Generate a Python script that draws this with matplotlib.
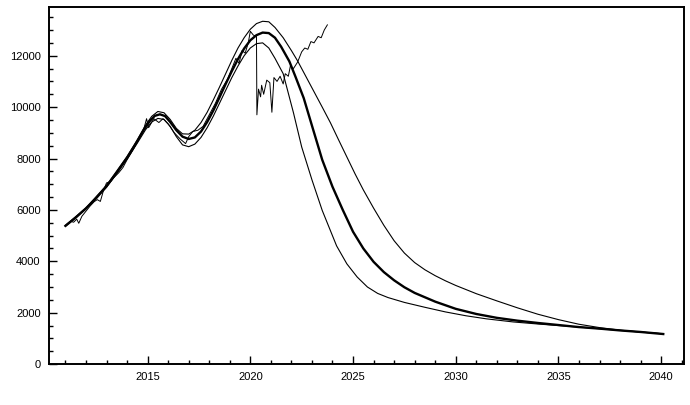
import matplotlib
matplotlib.use("Agg")
import matplotlib.pyplot as plt
from matplotlib.ticker import MultipleLocator

plt.rcParams.update({
    "font.family": "sans-serif",
    "font.sans-serif": ["Liberation Sans", "DejaVu Sans"],
    "font.size": 8,
})

# --- model curves ---
mid_year = [2011.0, 2011.5, 2012.0, 2012.5, 2013.0, 2013.5, 2014.0, 2014.4, 2014.8,
            2015.1, 2015.35, 2015.6, 2015.85, 2016.1, 2016.4, 2016.7, 2017.0, 2017.3,
            2017.6, 2017.9, 2018.2, 2018.5, 2018.8, 2019.1, 2019.4, 2019.7, 2020.0,
            2020.3, 2020.6, 2020.9, 2021.2, 2021.5, 2021.9, 2022.2, 2022.6, 2023.0,
            2023.5, 2024.0, 2024.5, 2025.0, 2025.5, 2026.0, 2026.5, 2027.0, 2027.5,
            2028.0, 2029.0, 2030.0, 2031.0, 2032.0, 2033.0, 2034.0, 2035.0, 2036.0,
            2037.0, 2038.0, 2039.0, 2040.1]
mid_val = [5380, 5700, 6060, 6460, 6920, 7450, 8030, 8550, 9100,
           9450, 9660, 9720, 9650, 9420, 9100, 8850, 8760, 8820,
           9050, 9420, 9870, 10380, 10900, 11400, 11870, 12280, 12600,
           12800, 12900, 12880, 12700, 12350, 11780, 11180, 10350, 9280,
           7950, 6900, 6000, 5150, 4500, 3980, 3580, 3260, 2990,
           2770, 2430, 2150, 1950, 1800, 1690, 1600, 1520, 1440,
           1380, 1310, 1250, 1170]

hi_year = [2011.0, 2012.0, 2013.0, 2014.0, 2014.5, 2014.9, 2015.2, 2015.5, 2015.8,
           2016.1, 2016.4, 2016.7, 2017.0, 2017.3, 2017.6, 2017.9, 2018.2, 2018.5,
           2018.8, 2019.1, 2019.4, 2019.7, 2020.0, 2020.3, 2020.6, 2020.9, 2021.2,
           2021.6, 2022.0, 2022.3, 2022.7, 2023.1, 2023.5, 2023.9, 2024.3, 2024.7,
           2025.1, 2025.5, 2026.0, 2026.5, 2027.0, 2027.5, 2028.0, 2028.5, 2029.0,
           2029.5, 2030.0, 2031.0, 2032.0, 2033.0, 2034.0, 2035.0, 2036.0, 2037.0,
           2038.0, 2039.0, 2040.1]
hi_val = [5400, 6080, 6960, 8080, 8720, 9300, 9640, 9830, 9780,
          9520, 9170, 8960, 8950, 9100, 9400, 9800, 10280, 10780,
          11300, 11820, 12300, 12700, 13030, 13250, 13340, 13320, 13100,
          12700, 12200, 11800, 11200, 10600, 10000, 9390, 8720, 8060,
          7400, 6780, 6070, 5400, 4800, 4320, 3950, 3670, 3440,
          3240, 3060, 2740, 2460, 2190, 1940, 1730, 1550, 1420,
          1320, 1250, 1180]

lo_year = [2011.0, 2012.0, 2013.0, 2014.0, 2014.5, 2014.9, 2015.2, 2015.5, 2015.8,
           2016.1, 2016.4, 2016.7, 2017.0, 2017.3, 2017.6, 2017.9, 2018.2, 2018.5,
           2018.8, 2019.1, 2019.4, 2019.7, 2020.0, 2020.3, 2020.6, 2020.9, 2021.2,
           2021.6, 2022.1, 2022.5, 2023.0, 2023.5, 2024.2, 2024.7, 2025.2, 2025.7,
           2026.2, 2026.7, 2027.5, 2028.5, 2029.5, 2030.5, 2031.5, 2032.8, 2034.0,
           2035.0, 2036.0, 2038.0, 2040.1]
lo_val = [5360, 6040, 6880, 7980, 8600, 9120, 9420, 9560, 9520,
          9250, 8850, 8530, 8460, 8560, 8820, 9200, 9650, 10150,
          10650, 11150, 11600, 12000, 12300, 12470, 12500, 12300, 11900,
          11300, 9780, 8450, 7170, 5980, 4600, 3900, 3390, 3000,
          2750, 2590, 2400, 2210, 2030, 1880, 1760, 1640, 1560,
          1500, 1440, 1310, 1175]

# --- observed series ---
obs_year = [2011.1, 2011.25, 2011.4, 2011.55, 2011.65, 2011.8, 2012.0, 2012.2, 2012.4,
            2012.55, 2012.7, 2012.85, 2013.0, 2013.2, 2013.35, 2013.6, 2013.8, 2014.0,
            2014.3, 2014.6, 2014.8, 2014.95, 2015.05, 2015.3, 2015.55, 2015.75, 2016.0,
            2016.3, 2016.6, 2016.85, 2017.0, 2017.2, 2017.45, 2017.7, 2018.0, 2018.3,
            2018.6, 2018.9, 2019.1, 2019.3, 2019.45, 2019.6, 2019.75, 2019.9, 2020.0,
            2020.15, 2020.3, 2020.32, 2020.4, 2020.5, 2020.55, 2020.65, 2020.8, 2020.95,
            2021.05, 2021.15, 2021.3, 2021.45, 2021.6, 2021.7, 2021.85, 2021.95, 2022.1,
            2022.3, 2022.5, 2022.65, 2022.8, 2022.95, 2023.1, 2023.3, 2023.45, 2023.6,
            2023.75]
obs_val = [5450, 5560, 5520, 5640, 5480, 5750, 5950, 6150, 6320,
           6400, 6330, 6750, 7050, 7100, 7250, 7450, 7650, 7950,
           8350, 8800, 9100, 9550, 9200, 9550, 9400, 9550, 9350,
           9000, 8750, 8580, 8850, 9050, 9100, 9250, 9700, 10150,
           10700, 11100, 11500, 11900, 11700, 12200, 12100, 12500, 12950,
           12800, 12750, 9700, 10700, 10400, 10850, 10500, 11050, 10950,
           9800, 11150, 11000, 11200, 10900, 11300, 11200, 11600, 11500,
           11750, 12150, 12300, 12250, 12550, 12500, 12750, 12700, 13000,
           13200]

fig = plt.figure(figsize=(6.9, 4.05), dpi=100)
ax = fig.add_axes([0.071, 0.101, 0.920, 0.882])

ax.plot(hi_year, hi_val, color="k", lw=0.8)
ax.plot(lo_year, lo_val, color="k", lw=0.8)
ax.plot(mid_year, mid_val, color="k", lw=1.7)
ax.plot(obs_year, obs_val, color="k", lw=0.7)

ax.set_xlim(2010.2, 2041.1)
ax.set_ylim(0, 13900)
ax.xaxis.set_major_locator(MultipleLocator(5))
ax.xaxis.set_minor_locator(MultipleLocator(1))
ax.yaxis.set_major_locator(MultipleLocator(2000))
ax.yaxis.set_minor_locator(MultipleLocator(500))
ax.tick_params(which="both", direction="in", width=1.0, pad=6, labelsize=8)
ax.tick_params(which="major", length=6)
ax.tick_params(which="minor", length=3)
for s in ax.spines.values():
    s.set_linewidth(1.4)

fig.savefig("out.png", dpi=100)
